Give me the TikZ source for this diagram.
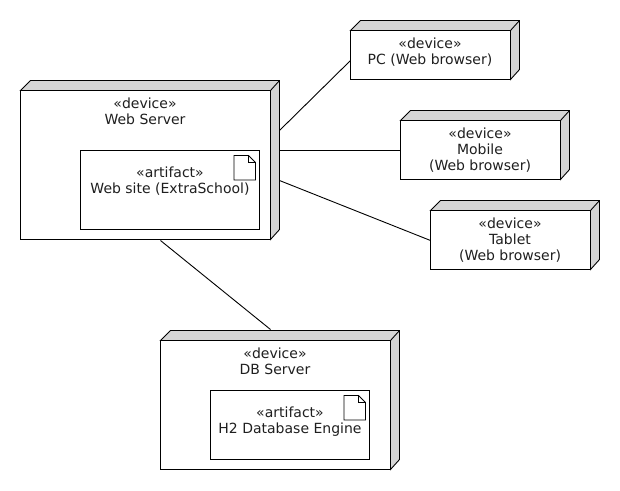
\documentclass[tikz,border=0pt]{standalone}
\usepackage{fontspec}
\setmainfont{DejaVu Sans}
\definecolor{shade}{RGB}{213,213,213}
\tikzset{
  x=1pt,y=-1pt,
  ln/.style={draw=black,line width=0.9pt,line join=miter},
  face/.style={ln,fill=white,rectangle,inner sep=0pt,outer sep=0pt,anchor=north west},
  depthface/.style={ln,fill=shade},
  lab/.style={inner sep=0pt,outer sep=0pt,anchor=base,align=center,text=black!88,font=\fontsize{14}{16}\selectfont},
  conn/.style={ln}
}
% name, x, y, width, height
\newcommand{\devbox}[5]{%
  \draw[depthface] (#2,#3) -- ++(10,-10) -- ++(#4-1,0) -- ++(0,#5) -- ++(-9,10) -- ++(0,-#5) -- ++(-#4,0) -- cycle;
  \draw[ln] (#2+#4,#3) -- ++(9,-10);
  \node[face,minimum width=#4 pt,minimum height=#5 pt] (#1) at (#2,#3) {};
}
% name, x, y, width, height
\newcommand{\artbox}[5]{%
  \node[face,minimum width=#4 pt,minimum height=#5 pt] (#1) at (#2,#3) {};
  \draw[ln] ([shift={(-25.5,5)}]#1.north east) -- ++(14.5,0) -- ++(7,7) -- ++(0,17.5) -- ++(-21.5,0) -- cycle;
  \draw[ln] ([shift={(-11,5)}]#1.north east) -- ++(0,7) -- ++(7,0);
}
\begin{document}
\begin{tikzpicture}
\useasboundingbox (0,0) rectangle (620,490);
\fill[white] (0,0) rectangle (620,490);

\devbox{web}{20.5}{90.5}{250}{149}
\artbox{site}{80.5}{150.5}{179}{79}
\devbox{pc}{350.5}{30.5}{160}{49}
\devbox{mob}{400.5}{120.5}{160}{59}
\devbox{tab}{430.5}{210.5}{160}{59}
\devbox{db}{160.5}{340.5}{230}{129}
\artbox{hdb}{210.5}{390.5}{159}{69}

\node[lab] (webt) at (145,124.2) {«device»\\Web Server};
\node[lab] (sitet) at (170,193.2) {«artifact»\\Web site (ExtraSchool)};
\node[lab] (pct) at (430,64.2) {«device»\\PC (Web browser)};
\node[lab] (mobt) at (480,170.2) {«device»\\Mobile\\(Web browser)};
\node[lab] (tabt) at (510,260.2) {«device»\\Tablet\\(Web browser)};
\node[lab] (dbt) at (275,374.2) {«device»\\DB Server};
\node[lab] (hdbt) at (290,433.2) {«artifact»\\H2 Database Engine};

\draw[conn] ([shift={(9,40)}]web.north east) -- ([shift={(0,-19)}]pc.south west);
\draw[conn] ([shift={(9,60)}]web.north east) -- ([shift={(0,-29)}]mob.south west);
\draw[conn] ([shift={(9,90)}]web.north east) -- ([shift={(0,-29)}]tab.south west);
\draw[conn] ([shift={(-110,1)}]web.south east) -- ([shift={(-120,-11)}]db.north east);
\end{tikzpicture}
\end{document}
